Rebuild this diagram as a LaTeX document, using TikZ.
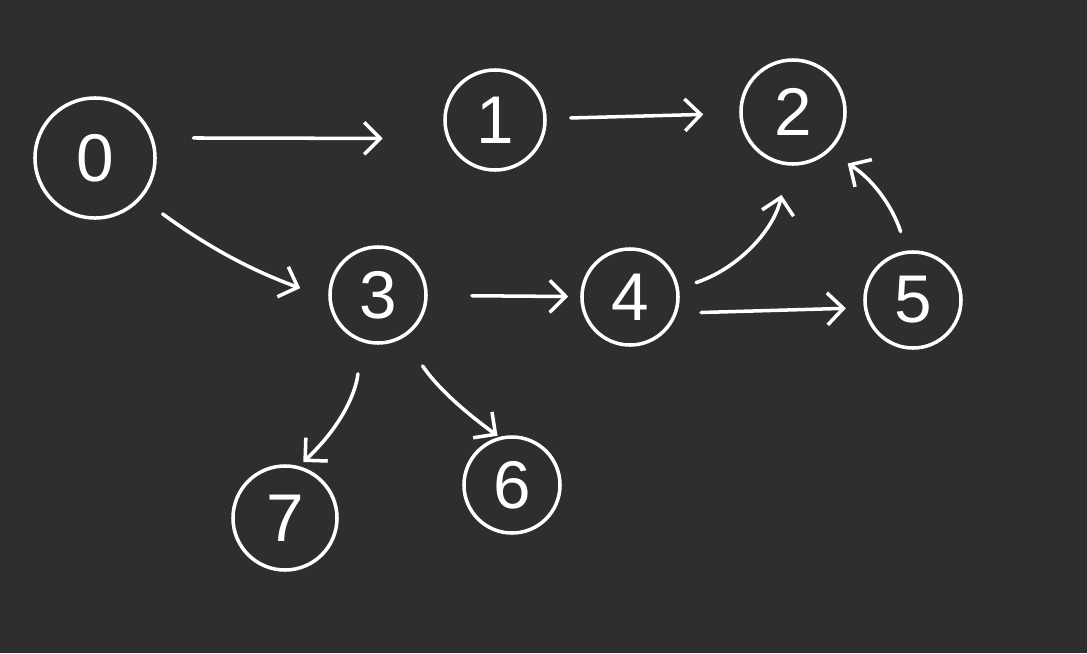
\documentclass[tikz,border=0pt]{standalone}
\usepackage{fontspec}
\setsansfont{Liberation Sans}
\usepackage{xcolor}
\usepackage{tikz}
\usetikzlibrary{arrows.meta}

\definecolor{boardgray}{HTML}{2E2E2E}

\tikzset{
    vertex/.style={draw=white, circle, line width=2.5pt, text=white,
        inner sep=0pt, font=\sffamily\fontsize{48}{48}\selectfont},
    link/.style={draw=white, line width=2.5pt, line cap=round,
        -{Straight Barb[length=0.4cm, width=0.8cm, line width=2.5pt]}}
}

\begin{document}
\begin{tikzpicture}[x=0.025cm, y=-0.025cm]
    % Board
    \fill[boardgray] (0,0) rectangle (1087,653);
    \useasboundingbox (0,0) rectangle (1087,653);

    % Vertices
    \foreach \n/\x/\y/\d in {0/95/158/3.0, 1/495/120/2.5, 2/793/112/2.6,
                             3/378/295/2.4, 4/630/297/2.4, 5/913/300/2.4,
                             6/512/485/2.4, 7/285/518/2.6} {
        \node[vertex, minimum size=\d cm] (v\n) at (\x,\y) {\n};
    }

    % Edges
    \draw[link, shorten <=1.0cm, shorten >=1.6cm] (v0.19) -- (v1.201);
    \draw[link, shorten <=0.6cm, shorten >=0.9cm] (v1) -- (v2);
    \draw[link, shorten <=0.65cm, shorten >=0.75cm] (v0.319) to[bend right=8] (v3.184);
    \draw[link, shorten <=1.1cm, shorten >=0.3cm] (v3) -- (v4);
    \draw[link, shorten <=0.45cm, shorten >=0.75cm] (v4.10) to[bend right=30] (v2.264);
    \draw[link, shorten <=0.6cm, shorten >=0.45cm] (v4.341) -- (v5.189);
    \draw[link, shorten <=0.5cm, shorten >=0.55cm] (v5.97) to[bend right=20] (v2.312);
    \draw[link, shorten <=0.8cm, shorten >=0.15cm] (v3.251) to[bend left=20] (v7.75);
    \draw[link, shorten <=0.85cm, shorten >=0.05cm] (v3.301) to[bend right=10] (v6.105);
\end{tikzpicture}
\end{document}
